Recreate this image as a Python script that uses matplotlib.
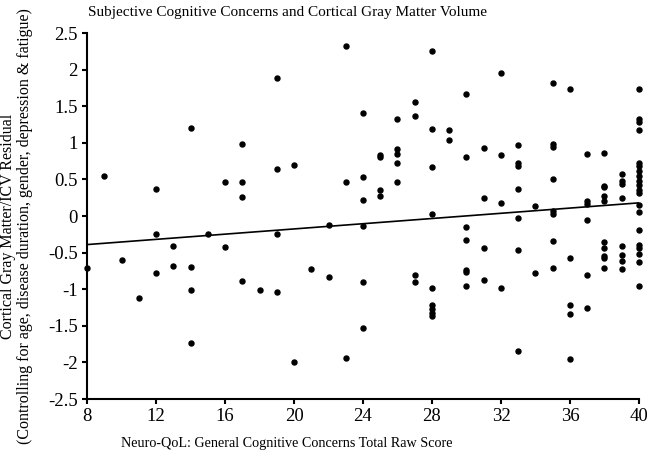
import matplotlib.pyplot as plt

plt.rcParams['font.family'] = 'Liberation Serif'
plt.rcParams['axes.unicode_minus'] = False

# Neuro-QoL score (x) and gray matter residual (y), one row per score value
score = [8,
         9,
         10,
         11,
         12, 12, 12,
         13, 13,
         14, 14, 14, 14,
         15,
         16, 16,
         17, 17, 17, 17,
         18,
         19, 19, 19, 19,
         20, 20,
         21,
         22, 22,
         23, 23, 23,
         24, 24, 24, 24, 24, 24,
         25, 25, 25, 25,
         26, 26, 26, 26, 26,
         27, 27, 27, 27,
         28, 28, 28, 28, 28, 28, 28, 28, 28,
         29, 29,
         30, 30, 30, 30, 30, 30, 30,
         31, 31, 31, 31,
         32, 32, 32, 32,
         33, 33, 33, 33, 33, 33, 33,
         34, 34,
         35, 35, 35, 35, 35, 35, 35, 35,
         36, 36, 36, 36, 36,
         37, 37, 37, 37, 37, 37,
         38, 38, 38, 38, 38, 38, 38, 38, 38, 38,
         39, 39, 39, 39, 39, 39, 39, 39,
         40, 40, 40, 40, 40, 40, 40, 40, 40, 40, 40, 40, 40, 40, 40, 40, 40, 40, 40, 40]
residual = [-0.71,
            0.55,
            -0.60,
            -1.12,
            0.37, -0.24, -0.78,
            -0.41, -0.68,
            1.20, -0.70, -1.01, -1.74,
            -0.24,
            0.46, -0.42,
            0.99, 0.46, 0.26, -0.89,
            -1.01,
            1.89, 0.64, -0.25, -1.04,
            0.70, -2.00,
            -0.73,
            -0.12, -0.83,
            2.32, 0.46, -1.94,
            1.41, 0.53, 0.22, -0.13, -0.90, -1.53,
            0.83, 0.80, 0.36, 0.27,
            1.32, 0.91, 0.85, 0.73, 0.47,
            1.56, 1.37, -0.81, -0.90,
            2.26, 1.19, 0.67, 0.03, -0.98, -1.22, -1.27, -1.32, -1.36,
            1.18, 1.04,
            1.67, 0.81, -0.15, -0.33, -0.74, -0.77, -0.95,
            0.93, 0.25, -0.44, -0.88,
            1.95, 0.84, 0.18, -0.99,
            0.97, 0.72, 0.69, 0.37, -0.03, -0.47, -1.85,
            0.14, -0.78,
            1.82, 0.98, 0.95, 0.50, 0.07, 0.03, -0.34, -0.71,
            1.74, -0.58, -1.21, -1.34, -1.95,
            0.85, 0.20, 0.16, -0.05, -0.80, -1.26,
            0.86, 0.41, 0.39, 0.28, 0.21, -0.36, -0.44, -0.54, -0.58, -0.71,
            0.58, 0.48, 0.44, 0.25, -0.41, -0.53, -0.61, -0.72,
            1.74, 1.32, 1.29, 1.18, 0.73, 0.68, 0.61, 0.55, 0.48, 0.42, 0.36, 0.31,
            0.15, 0.05, -0.19, -0.39, -0.44, -0.52, -0.63, -0.96]

# regression line end points
fit_x = [8, 40]
fit_y = [-0.39, 0.18]

x_ticks = [8, 12, 16, 20, 24, 28, 32, 36, 40]
y_ticks = [2.5, 2, 1.5, 1, 0.5, 0, -0.5, -1, -1.5, -2, -2.5]

fig = plt.figure(figsize=(6.47, 4.53), dpi=100)
ax = fig.add_axes([0.1345, 0.1192, 0.8531, 0.8078])

ax.plot(score, residual, 'o', color='black', ms=3.6, clip_on=False, zorder=3)
ax.plot(fit_x, fit_y, color='black', lw=1.2, zorder=2)

ax.set_xlim(8, 40)
ax.set_ylim(-2.5, 2.5)
ax.set_xticks(x_ticks)
ax.set_yticks(y_ticks)
ax.set_yticklabels([f'{v:g}' for v in y_ticks])

for side in ['top', 'right']:
    ax.spines[side].set_visible(False)
for side in ['left', 'bottom']:
    ax.spines[side].set_linewidth(1.5)
ax.tick_params(direction='out', length=3.5, width=1.5, labelsize=13.5, pad=3)

# the labels in the original sit off the axes centre, so place them by hand
fig.text(0.4436, 0.972, 'Subjective Cognitive Concerns and Cortical Gray Matter Volume',
         ha='center', va='center', fontsize=11)
fig.text(0.4436, 0.02, 'Neuro-QoL: General Cognitive Concerns Total Raw Score',
         ha='center', va='center', fontsize=10.2)
fig.text(0.026, 0.5, 'Cortical Gray Matter/ICV Residual\n'
         '(Controlling for age, disease duration, gender, depression & fatigue)',
         rotation=90, ha='center', va='center', fontsize=11.5, multialignment='center',
         linespacing=1.1)

fig.patch.set_facecolor('white')
fig.savefig('out.png', dpi=100)
